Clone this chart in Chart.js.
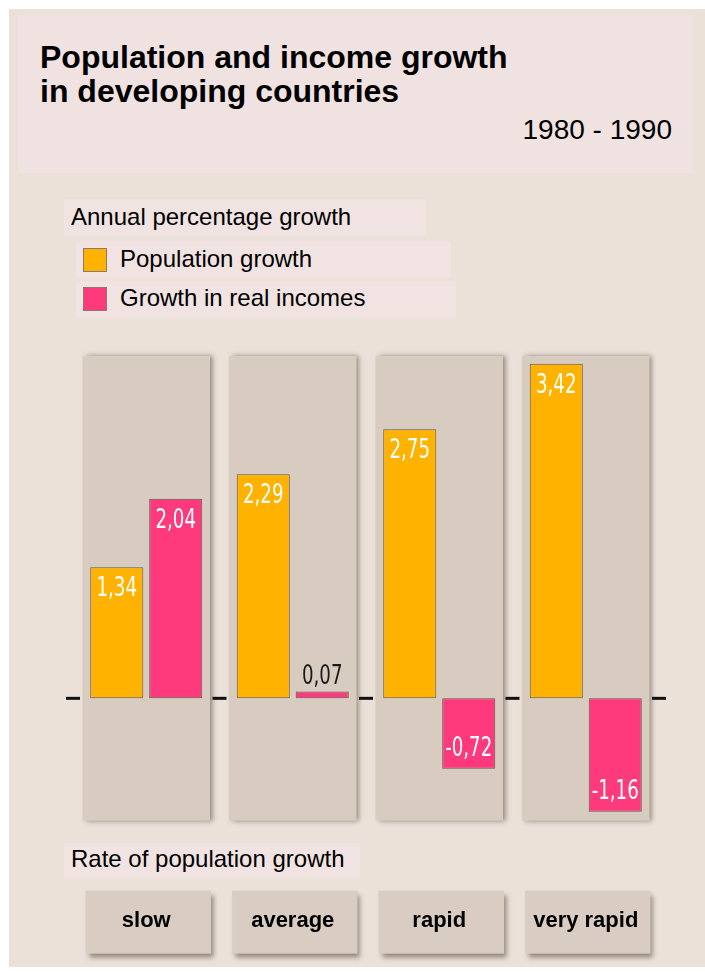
<!DOCTYPE html>
<html>
<head>
<meta charset="utf-8">
<script src="https://cdn.jsdelivr.net/npm/chart.js@4/dist/chart.umd.min.js"></script>
<style>
  html, body { margin: 0; padding: 0; background: #ffffff; }
  body { width: 705px; height: 972px; position: relative; overflow: hidden; font-family: "Liberation Sans", Arial, sans-serif; }
  .abs { position: absolute; }
  #page { left: 9px; top: 9px; width: 696px; height: 958px; background: #ebe1d9; }
  #titlebox { left: 18px; top: 15px; width: 675px; height: 158px; background: #f0e2e0; }
  #title { left: 40px; top: 40px; font-size: 32px; font-weight: bold; line-height: 34px; color: #000; }
  #years { right: 33px; top: 114px; font-size: 28px; color: #000; }
  .lbox { background: #f0e3e1; }
  .ltext { font-size: 24px; color: #000; white-space: nowrap; }
  .swatch { width: 24px; height: 24px; box-sizing: border-box; border: 1px solid #8a7a6e; }
  canvas { position: absolute; left: 0; top: 0; }
</style>
</head>
<body>
<div id="page" class="abs"></div>
<div id="titlebox" class="abs"></div>
<div id="title" class="abs">Population and income growth<br>in developing countries</div>
<div id="years" class="abs">1980 - 1990</div>

<div class="abs lbox" style="left:64px;top:199px;width:362px;height:37px;"></div>
<div class="abs ltext" style="left:71px;top:203px;">Annual percentage growth</div>
<div class="abs lbox" style="left:76px;top:241px;width:375px;height:37px;"></div>
<div class="abs lbox" style="left:76px;top:281px;width:380px;height:37px;"></div>
<div id="sw0" class="abs swatch" style="left:83px;top:248px;"></div>
<div id="lt0" class="abs ltext" style="left:120px;top:245px;"></div>
<div id="sw1" class="abs swatch" style="left:83px;top:287px;"></div>
<div id="lt1" class="abs ltext" style="left:120px;top:284px;"></div>

<div class="abs lbox" style="left:64px;top:843px;width:296px;height:35px;"></div>
<div class="abs ltext" style="left:71px;top:845px;">Rate of population growth</div>

<canvas id="c" width="705" height="972"></canvas>

<script>
// ---- data ----
const categories = ['slow', 'average', 'rapid', 'very rapid'];
const seriesNames = ['Population growth', 'Growth in real incomes'];
const populationGrowth = [1.34, 2.29, 2.75, 3.42];
const incomeGrowth = [2.04, 0.07, -0.72, -1.16];
const seriesColors = ['#ffb300', '#ff3a7c'];

// HTML legend
seriesNames.forEach((n, i) => {
  document.getElementById('lt' + i).textContent = n;
  document.getElementById('sw' + i).style.background = seriesColors[i];
});

const backdrop = {
  id: 'backdrop',
  beforeDraw(chart) {
    const ctx = chart.ctx, ca = chart.chartArea, xs = chart.scales.x;
    const cw = (ca.right - ca.left) / categories.length;
    ctx.save();
    categories.forEach((c, i) => {
      const cx = xs.getPixelForValue(i);
      const hw = cw * 0.435;
      ctx.shadowColor = 'rgba(90,75,60,0.6)';
      ctx.shadowBlur = 5;
      ctx.shadowOffsetX = 3;
      ctx.shadowOffsetY = 0;
      ctx.fillStyle = '#d8ccc0';
      ctx.fillRect(cx - hw, ca.top, hw * 2, ca.bottom - ca.top);
      ctx.shadowOffsetX = 3;
      ctx.shadowOffsetY = 4;
      ctx.fillStyle = '#d9cdc3';
      ctx.fillRect(cx - hw + 3, ca.bottom + 70, hw * 2 - 2, 63);
    });
    ctx.restore();
  },
  afterDatasetsDraw(chart) {
    const ctx = chart.ctx, ca = chart.chartArea, ys = chart.scales.y;
    const cw = (ca.right - ca.left) / categories.length;
    const y0 = ys.getPixelForValue(0);
    ctx.save();
    ctx.fillStyle = '#111';
    for (let i = 0; i <= categories.length; i++) {
      const bx = ca.left + i * cw;
      ctx.fillRect(bx - 7, y0 - 1.5, 14, 3);
    }
    ctx.font = '27px "DejaVu Sans Condensed", "Liberation Sans Narrow", sans-serif';
    ctx.textAlign = 'center';
    ctx.textBaseline = 'middle';
    chart.data.datasets.forEach((ds, di) => {
      const meta = chart.getDatasetMeta(di);
      meta.data.forEach((el, j) => {
        const v = ds.data[j];
        const txt = v.toFixed(2).replace('.', ',');
        const h = Math.abs(el.base - el.y);
        let ty, col;
        if (h > 30) {
          col = '#ffffff';
          ty = v >= 0 ? el.y + 22 : el.y - 20;
        } else {
          col = '#1a1a1a';
          ty = Math.min(el.y, el.base) - 15;
        }
        ctx.save();
        ctx.translate(el.x, ty);
        ctx.scale(0.75, 1);
        ctx.fillStyle = col;
        ctx.fillText(txt, 0, 0);
        ctx.restore();
      });
    });
    ctx.restore();
  }
};

new Chart(document.getElementById('c'), {
  type: 'bar',
  data: {
    labels: categories,
    datasets: [
      { label: seriesNames[0], data: populationGrowth, backgroundColor: seriesColors[0] },
      { label: seriesNames[1], data: incomeGrowth, backgroundColor: seriesColors[1] }
    ]
  },
  options: {
    responsive: false,
    animation: false,
    devicePixelRatio: 1,
    layout: { padding: { left: 73, right: 46, top: 356, bottom: 38 } },
    datasets: {
      bar: {
        borderWidth: 1,
        borderColor: '#62584f',
        borderSkipped: false,
        categoryPercentage: 0.805,
        barPercentage: 0.9
      }
    },
    plugins: { legend: { display: false }, tooltip: { enabled: false }, title: { display: false } },
    scales: {
      x: {
        grid: { display: false, drawTicks: false },
        border: { display: false },
        ticks: {
          padding: 87,
          color: '#000',
          maxRotation: 0,
          autoSkip: false,
          font: { family: '"Liberation Sans", Arial, sans-serif', size: 22, weight: 'bold' }
        },
        afterFit(scale) {
          scale.height = 87 + 26.4;
          scale.paddingLeft = 0;
          scale.paddingRight = 0;
          scale.paddingTop = 0;
          scale.paddingBottom = 0;
        }
      },
      y: { display: false, min: -1.25, max: 3.5 }
    }
  },
  plugins: [backdrop]
});
</script>
</body>
</html>
